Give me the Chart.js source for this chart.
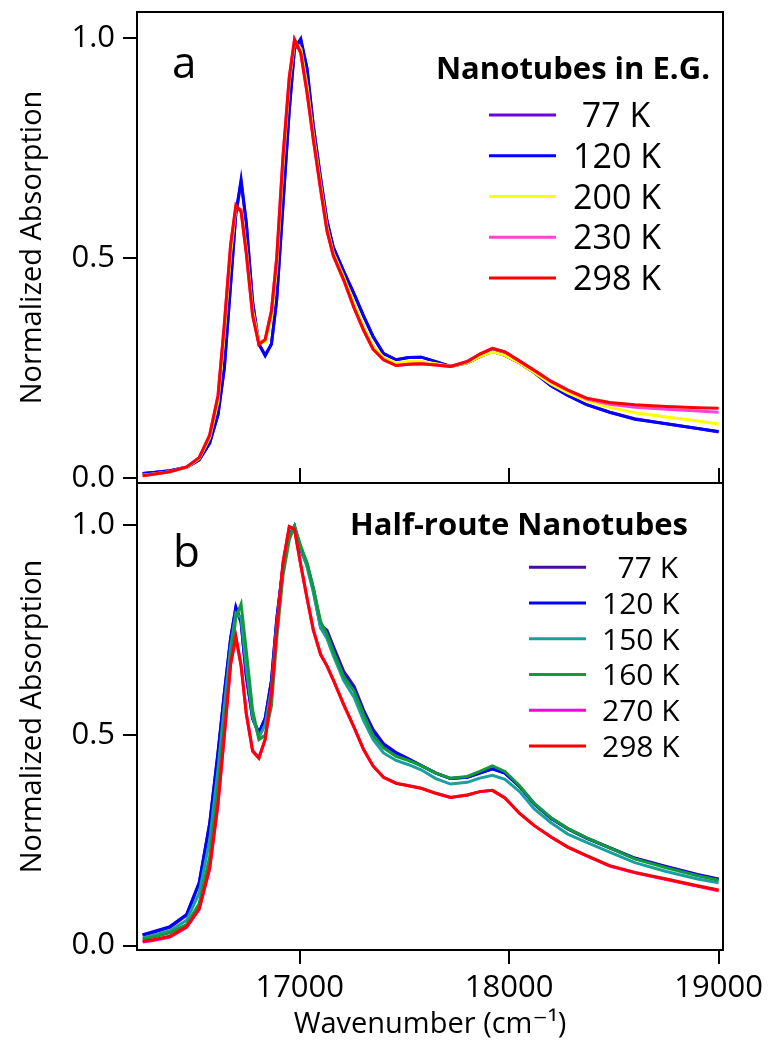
<!DOCTYPE html>
<html>
<head>
<meta charset="utf-8">
<script src="https://cdn.jsdelivr.net/npm/chart.js@4.4.1/dist/chart.umd.min.js"></script>
<style>
  body { margin: 0; background: #fff; }
  canvas { position: absolute; left: 0; }
  #panelA { top: 0; }
  #panelB { top: 476px; }
</style>
</head>
<body>
<canvas id="panelA" width="770" height="495"></canvas>
<canvas id="panelB" width="770" height="566"></canvas>
<script>
// wavenumber grid (cm^-1) shared by every spectrum
const wavenumber = [16250, 16300, 16380, 16460, 16520, 16570, 16610, 16640, 16670, 16695,
  16720, 16745, 16775, 16805, 16835, 16865, 16890, 16920, 16950, 16975,
  17005, 17035, 17065, 17100, 17130, 17160, 17210, 17260, 17305, 17350,
  17400, 17460, 17520, 17580, 17650, 17720, 17800, 17860, 17920, 17980,
  18050, 18120, 18200, 18280, 18370, 18480, 18600, 18750, 18900, 19000];

const xTicks = [17000, 18000, 19000];
const yTicks = [0, 0.5, 1.0];

// (a) nanotubes in ethylene glycol
const egLabels = [' 77 K', '120 K', '200 K', '230 K', '298 K'];
const eg77 = [0.011, 0.013, 0.017, 0.025, 0.042, 0.08, 0.145, 0.25, 0.44, 0.6,
  0.672, 0.58, 0.4, 0.305, 0.28, 0.305, 0.405, 0.62, 0.835, 0.975,
  0.995, 0.93, 0.8, 0.68, 0.585, 0.525, 0.47, 0.418, 0.368, 0.322,
  0.283, 0.269, 0.274, 0.275, 0.265, 0.254, 0.262, 0.276, 0.288, 0.279,
  0.262, 0.24, 0.21, 0.188, 0.167, 0.15, 0.135, 0.124, 0.113, 0.105];
const eg120 = [0.011, 0.013, 0.017, 0.025, 0.042, 0.08, 0.145, 0.25, 0.44, 0.6,
  0.678, 0.58, 0.4, 0.305, 0.278, 0.305, 0.405, 0.62, 0.835, 0.975,
  0.998, 0.93, 0.8, 0.68, 0.585, 0.525, 0.47, 0.418, 0.368, 0.322,
  0.283, 0.269, 0.274, 0.275, 0.265, 0.254, 0.262, 0.276, 0.288, 0.279,
  0.262, 0.24, 0.21, 0.188, 0.167, 0.15, 0.134, 0.124, 0.113, 0.106];
const eg200 = [0.007, 0.01, 0.015, 0.025, 0.045, 0.092, 0.175, 0.33, 0.51, 0.615,
  0.61, 0.52, 0.38, 0.31, 0.31, 0.365, 0.48, 0.71, 0.9, 0.99,
  0.975, 0.89, 0.78, 0.665, 0.57, 0.512, 0.457, 0.395, 0.343, 0.3,
  0.274, 0.262, 0.265, 0.265, 0.26, 0.254, 0.262, 0.276, 0.287, 0.279,
  0.262, 0.24, 0.214, 0.194, 0.176, 0.161, 0.149, 0.139, 0.13, 0.123];
const eg230 = [0.006, 0.009, 0.015, 0.026, 0.047, 0.098, 0.188, 0.35, 0.53, 0.615,
  0.61, 0.51, 0.37, 0.306, 0.315, 0.38, 0.5, 0.73, 0.91, 0.996,
  0.965, 0.875, 0.769, 0.655, 0.562, 0.506, 0.45, 0.386, 0.336, 0.293,
  0.269, 0.256, 0.259, 0.26, 0.257, 0.254, 0.265, 0.282, 0.295, 0.287,
  0.266, 0.245, 0.22, 0.2, 0.18, 0.168, 0.161, 0.157, 0.153, 0.15];
const eg298 = [0.006, 0.009, 0.015, 0.026, 0.047, 0.098, 0.188, 0.35, 0.53, 0.62,
  0.605, 0.51, 0.37, 0.303, 0.315, 0.38, 0.5, 0.73, 0.91, 0.996,
  0.965, 0.875, 0.769, 0.655, 0.562, 0.506, 0.45, 0.386, 0.336, 0.293,
  0.269, 0.256, 0.259, 0.26, 0.257, 0.254, 0.265, 0.282, 0.295, 0.287,
  0.266, 0.245, 0.22, 0.2, 0.182, 0.172, 0.167, 0.163, 0.16, 0.159];

// (b) half-route nanotubes
const hrLabels = ['  77 K', '120 K', '150 K', '160 K', '270 K', '298 K'];
const hr77 = [0.024, 0.031, 0.043, 0.072, 0.148, 0.29, 0.46, 0.6, 0.73, 0.803,
  0.768, 0.64, 0.54, 0.506, 0.54, 0.63, 0.775, 0.9, 0.975, 0.997,
  0.942, 0.908, 0.85, 0.762, 0.75, 0.712, 0.652, 0.616, 0.56, 0.514,
  0.48, 0.459, 0.444, 0.428, 0.41, 0.397, 0.4, 0.41, 0.42, 0.41,
  0.378, 0.337, 0.303, 0.278, 0.256, 0.233, 0.208, 0.188, 0.169, 0.158];
const hr120 = [0.026, 0.033, 0.045, 0.074, 0.15, 0.29, 0.46, 0.6, 0.73, 0.805,
  0.77, 0.64, 0.54, 0.505, 0.54, 0.63, 0.775, 0.9, 0.975, 0.997,
  0.94, 0.905, 0.845, 0.756, 0.743, 0.705, 0.645, 0.61, 0.555, 0.51,
  0.478, 0.458, 0.443, 0.428, 0.41, 0.397, 0.4, 0.41, 0.42, 0.41,
  0.378, 0.336, 0.302, 0.277, 0.255, 0.232, 0.207, 0.187, 0.168, 0.157];
const hr150 = [0.018, 0.024, 0.035, 0.06, 0.125, 0.25, 0.42, 0.57, 0.71, 0.79,
  0.78, 0.66, 0.545, 0.495, 0.525, 0.61, 0.76, 0.89, 0.97, 0.997,
  0.945, 0.9, 0.84, 0.755, 0.73, 0.69, 0.63, 0.59, 0.535, 0.49,
  0.458, 0.44, 0.43, 0.418, 0.397, 0.384, 0.388, 0.398, 0.405, 0.395,
  0.366, 0.325, 0.292, 0.265, 0.245, 0.222, 0.197, 0.176, 0.158, 0.149];
const hr160 = [0.015, 0.02, 0.03, 0.05, 0.1, 0.21, 0.38, 0.53, 0.68, 0.78,
  0.812, 0.7, 0.56, 0.49, 0.5, 0.57, 0.73, 0.88, 0.965, 0.997,
  0.95, 0.91, 0.85, 0.77, 0.74, 0.7, 0.64, 0.605, 0.55, 0.5,
  0.47, 0.45, 0.44, 0.428, 0.41, 0.398, 0.402, 0.414, 0.427, 0.414,
  0.38, 0.338, 0.304, 0.278, 0.256, 0.232, 0.206, 0.185, 0.166, 0.155];
const hr270 = [0.008, 0.012, 0.02, 0.043, 0.086, 0.182, 0.335, 0.5, 0.668, 0.734,
  0.667, 0.552, 0.464, 0.447, 0.49, 0.6, 0.75, 0.91, 0.996, 0.99,
  0.905, 0.826, 0.75, 0.692, 0.665, 0.632, 0.573, 0.518, 0.466, 0.427,
  0.4, 0.386, 0.38, 0.374, 0.362, 0.352, 0.358, 0.366, 0.369, 0.351,
  0.314, 0.285, 0.258, 0.234, 0.213, 0.189, 0.173, 0.157, 0.141, 0.13];
const hr298 = [0.01, 0.014, 0.022, 0.045, 0.088, 0.185, 0.34, 0.5, 0.67, 0.734,
  0.665, 0.55, 0.462, 0.445, 0.49, 0.6, 0.75, 0.91, 0.996, 0.99,
  0.905, 0.826, 0.75, 0.692, 0.665, 0.632, 0.573, 0.518, 0.466, 0.427,
  0.4, 0.386, 0.38, 0.374, 0.362, 0.352, 0.358, 0.366, 0.369, 0.351,
  0.314, 0.285, 0.258, 0.234, 0.214, 0.19, 0.174, 0.158, 0.142, 0.132];

const egColors = ['#7000e0', '#0000ff', '#ffff00', '#ff44d4', '#ff0000'];
const hrColors = ['#4a0aa0', '#0000ff', '#1a9e9e', '#129a3a', '#ff00dd', '#ff0000'];

const FONT = '"Open Sans", "DejaVu Sans", sans-serif';

function makeSets(labels, series, colors) {
  // later temperatures are drawn on top
  return series.map((ys, i) => ({
    label: labels[i],
    data: wavenumber.map((x, j) => ({ x: x, y: ys[j] })),
    borderColor: colors[i],
    borderWidth: 3,
    pointRadius: 0,
    tension: 0,
    fill: false,
    order: series.length - i
  }));
}

// no extra room for tick labels hanging past the plot edges
function noOverhang(s) {
  s.paddingTop = 0;
  s.paddingBottom = 0;
  s.paddingLeft = 0;
  s.paddingRight = 0;
}

// box around the plot, inward x ticks, in-plot legend and panel letter
const decorations = {
  id: 'decorations',
  afterDraw(chart, args, opts) {
    const ctx = chart.ctx;
    const a = chart.chartArea;
    const xs = chart.scales.x;
    ctx.save();
    ctx.strokeStyle = '#000';
    ctx.lineWidth = 2;
    ctx.strokeRect(a.left, a.top, a.right - a.left, a.bottom - a.top);
    if (opts.innerTicks) {
      ctx.beginPath();
      xTicks.forEach(v => {
        const px = Math.round(xs.getPixelForValue(v));
        ctx.moveTo(px, a.bottom);
        ctx.lineTo(px, a.bottom - 15);
      });
      ctx.stroke();
    }
    // panel letter
    ctx.fillStyle = '#000';
    ctx.font = '44px ' + FONT;
    ctx.textAlign = 'left';
    ctx.textBaseline = 'alphabetic';
    ctx.fillText(opts.letter, opts.letterX, opts.letterY);
    // legend
    const lg = opts.legend;
    ctx.font = 'bold ' + lg.titleSize + 'px ' + FONT;
    ctx.textAlign = 'right';
    ctx.fillText(lg.title, lg.titleX, lg.titleY);
    ctx.font = lg.size + 'px ' + FONT;
    ctx.textAlign = 'left';
    chart.data.datasets.forEach((ds, i) => {
      const y = lg.y0 + i * lg.dy;
      ctx.strokeStyle = ds.borderColor;
      ctx.lineWidth = 3;
      ctx.beginPath();
      ctx.moveTo(lg.x0, y);
      ctx.lineTo(lg.x1, y);
      ctx.stroke();
      ctx.fillText(ds.label, lg.textX, y + lg.size * 0.357);
    });
    ctx.restore();
  }
};

function makeChart(id, sets, cfg) {
  return new Chart(document.getElementById(id), {
    type: 'line',
    data: { datasets: sets },
    plugins: [decorations],
    options: {
      responsive: false,
      animation: false,
      devicePixelRatio: 1,
      layout: { padding: { top: cfg.padTop, right: 47, left: 0, bottom: 0 } },
      plugins: {
        legend: { display: false },
        tooltip: { enabled: false },
        decorations: cfg.deco
      },
      scales: {
        x: {
          type: 'linear',
          min: 16223,
          max: 19021,
          afterBuildTicks: s => { s.ticks = xTicks.map(v => ({ value: v })); },
          afterFit: s => { s.height = cfg.xHeight; noOverhang(s); },
          border: { display: false },
          grid: {
            display: cfg.xLabels,
            drawOnChartArea: false,
            tickLength: 14,
            color: '#000',
            lineWidth: 2
          },
          ticks: {
            display: cfg.xLabels,
            color: '#000',
            padding: 6,
            maxRotation: 0,
            font: { family: FONT, size: 31 },
            callback: v => String(v)
          },
          title: {
            display: cfg.xLabels,
            text: 'Wavenumber (cm\u207B\u00B9)',
            color: '#000',
            padding: 0,
            font: { family: FONT, size: 29 }
          }
        },
        y: {
          min: cfg.yMin,
          max: cfg.yMax,
          afterBuildTicks: s => { s.ticks = yTicks.map(v => ({ value: v })); },
          afterFit: s => { s.width = 137; noOverhang(s); },
          border: { display: false },
          grid: {
            drawOnChartArea: false,
            tickLength: 14,
            color: '#000',
            lineWidth: 2
          },
          ticks: {
            color: '#000',
            padding: 8,
            font: { family: FONT, size: 31 },
            callback: v => v.toFixed(1)
          },
          title: {
            display: true,
            text: 'Normalized Absorption',
            color: '#000',
            padding: { top: 15, bottom: 0 },
            font: { family: FONT, size: 29 }
          }
        }
      }
    }
  });
}

makeChart('panelA', makeSets(egLabels, [eg77, eg120, eg200, eg230, eg298], egColors), {
  padTop: 12, xHeight: 12, xLabels: false, yMin: -0.0107, yMax: 1.0586,
  deco: {
    innerTicks: true, letter: 'a', letterX: 172, letterY: 78,
    legend: { title: 'Nanotubes in E.G.', titleX: 710, titleY: 79, titleSize: 31,
      x0: 489, x1: 556, textX: 573, y0: 115, dy: 40.75, size: 34 }
  }
});

makeChart('panelB', makeSets(hrLabels, [hr77, hr120, hr150, hr160, hr270, hr298], hrColors), {
  padTop: 7, xHeight: 92, xLabels: true, yMin: -0.0107, yMax: 1.1,
  deco: {
    innerTicks: false, letter: 'b', letterX: 173, letterY: 567 - 476,
    legend: { title: 'Half-route Nanotubes', titleX: 688, titleY: 535 - 476, titleSize: 31,
      x0: 529, x1: 586, textX: 602, y0: 567.3 - 476, dy: 35.75, size: 30 }
  }
});
</script>
</body>
</html>
